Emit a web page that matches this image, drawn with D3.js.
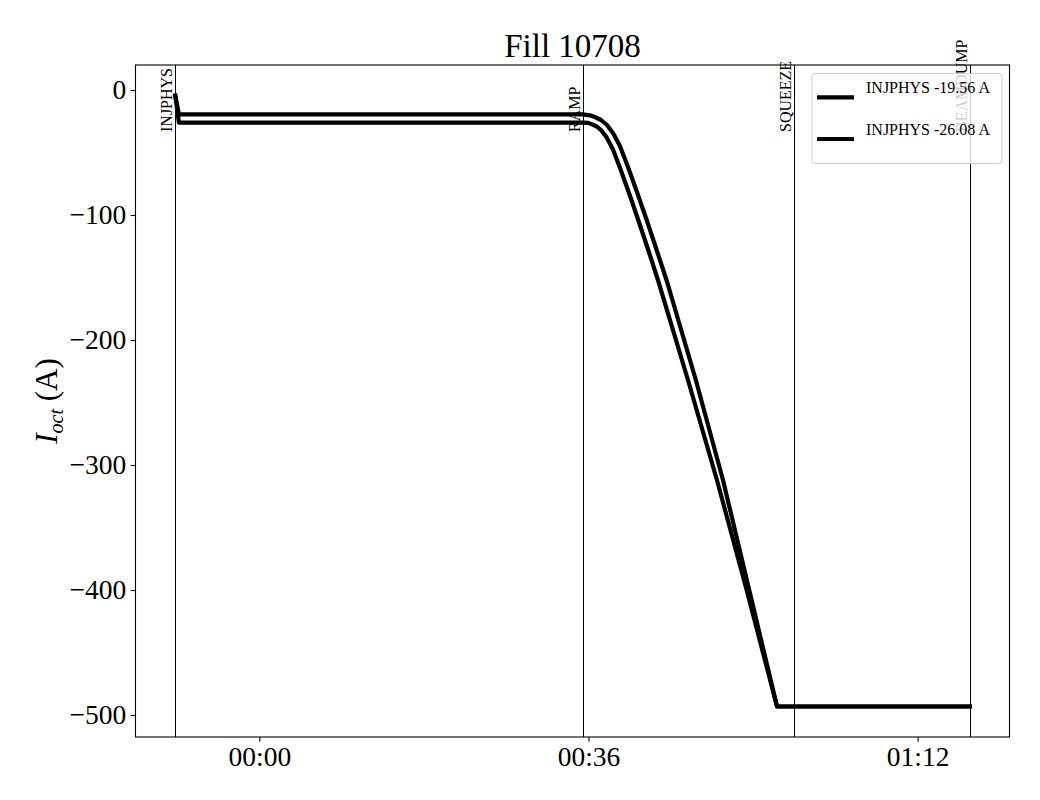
<!DOCTYPE html>
<html>
<head>
<meta charset="utf-8">
<script src="https://cdn.jsdelivr.net/npm/d3@7"></script>
<style>
  html, body { margin: 0; padding: 0; background: #fff; }
  svg { display: block; font-family: "Liberation Serif", "DejaVu Serif", serif; }
</style>
</head>
<body>
<svg id="chart" width="1040" height="800"></svg>
<script>
// ---- Data (time in minutes relative to 00:00, current in A) ----
const title = "Fill 10708";
const seriesNames = ["INJPHYS -19.56 A", "INJPHYS -26.08 A"];
const timesA = [-9.2, -8.8, 35.4, 36.16, 36.82, 37.37, 38.02, 38.68, 39.44, 40.32, 41.3, 42.4, 43.49, 44.6, 47.74, 50.71, 53.58, 56.62, 77.7];
const valuesA = [-4.5, -19.56, -19.56, -20.24, -22.0, -24.0, -28.0, -34.4, -44.8, -61.6, -81.6, -104.8, -128.8, -153.6, -232, -312, -400, -493.2, -493.2];
const timesB = [-9.2, -8.8, 35.4, 35.96, 36.48, 36.9, 37.41, 37.96, 38.67, 39.52, 40.49, 41.59, 42.68, 43.63, 46.88, 50.05, 53.3, 56.62, 77.7];
const valuesB = [-4.5, -26.08, -26.08, -26.32, -27.76, -29.2, -32.32, -37.68, -47.36, -63.76, -83.6, -107.2, -131.2, -152.8, -232, -312, -400, -493.2, -493.2];
const modeNames = ["INJPHYS", "RAMP", "SQUEEZE", "BEAMDUMP"];
const modeTimes = [-9.22, 35.41, 58.48, 77.76];
const xTicks = [0, 36, 72];
const yTicks = [0, -100, -200, -300, -400, -500];

(function () {
// ---- Layout ----
const svg = d3.select("#chart");
const pL = 135.5, pR = 1009.5, pT = 65, pB = 737;
const x = d3.scaleLinear().domain([-13.55, 82.05]).range([pL, pR]);
const y = d3.scaleLinear().domain([20, -517.6]).range([pT, pB]);

const fmtTime = m => {
  const h = Math.floor(m / 60), mm = m % 60;
  return String(h).padStart(2, "0") + ":" + String(mm).padStart(2, "0");
};
const fmtY = v => (v < 0 ? "\u2212" + Math.abs(v) : String(v));

// Axes
const tick = 4.86;
const xAxis = d3.axisBottom(x).tickValues(xTicks).tickFormat(fmtTime).tickSize(tick).tickPadding(4.5);
const yAxis = d3.axisLeft(y).tickValues(yTicks).tickFormat(fmtY).tickSize(tick).tickPadding(4.5);

const gx = svg.append("g").attr("transform", `translate(0,${pB})`).call(xAxis);
const gy = svg.append("g").attr("transform", `translate(${pL},0)`).call(yAxis);
[gx, gy].forEach(g => {
  g.select(".domain").remove();
  g.selectAll(".tick line").attr("stroke", "#000").attr("stroke-width", 1.1);
  g.selectAll(".tick text").attr("fill", "#000").style("font-size", "27.5px")
    .style("font-family", '"Liberation Serif", "DejaVu Serif", serif');
});

// Series lines
const line = d3.line().x(d => x(d[0])).y(d => y(d[1]));
const dataA = timesA.map((t, i) => [t, valuesA[i]]);
const dataB = timesB.map((t, i) => [t, valuesB[i]]);
[dataA, dataB].forEach(d => {
  svg.append("path").datum(d).attr("d", line)
    .attr("fill", "none").attr("stroke", "#000").attr("stroke-width", 4.2)
    .attr("stroke-linejoin", "round").attr("stroke-linecap", "square");
});

// Mode vertical lines + labels
modeTimes.forEach((t, i) => {
  const xx = Math.round(x(t)) + 0.5;
  svg.append("line").attr("x1", xx).attr("x2", xx).attr("y1", pT).attr("y2", pB)
    .attr("stroke", "#000").attr("stroke-width", 1);
  const tx = xx - 4, ty = 132;
  svg.append("text").attr("x", tx).attr("y", ty)
    .attr("transform", `rotate(-90,${tx},${ty})`)
    .attr("text-anchor", "start").style("font-size", "16px").attr("fill", "#000")
    .text(modeNames[i]);
});

// Frame
svg.append("rect").attr("x", pL).attr("y", pT).attr("width", pR - pL).attr("height", pB - pT)
  .attr("fill", "none").attr("stroke", "#000").attr("stroke-width", 1.1);

// Legend
const lg = svg.append("g");
lg.append("rect").attr("x", 812).attr("y", 73.5).attr("width", 190).attr("height", 90).attr("rx", 3)
  .attr("fill", "#fff").attr("fill-opacity", 0.8).attr("stroke", "#cccccc").attr("stroke-width", 1);
seriesNames.forEach((name, i) => {
  const ly = 97.3 + i * 41.7;
  lg.append("line").attr("x1", 817).attr("x2", 854).attr("y1", ly).attr("y2", ly)
    .attr("stroke", "#000").attr("stroke-width", 4.2);
  lg.append("text").attr("x", 866).attr("y", ly - 4.2).style("font-size", "16px").attr("fill", "#000").text(name);
});

// Title
svg.append("text").attr("x", (pL + pR) / 2).attr("y", 56.7).attr("text-anchor", "middle")
  .style("font-size", "33px").attr("fill", "#000").text(title);

// Y label
const ylx = 57, yly = (pT + pB) / 2;
const yl = svg.append("text").attr("x", ylx).attr("y", yly)
  .attr("transform", `rotate(-90,${ylx},${yly})`).attr("text-anchor", "middle")
  .style("font-size", "31px").attr("fill", "#000");
yl.append("tspan").style("font-style", "italic").text("I");
yl.append("tspan").style("font-style", "italic").style("font-size", "20px").attr("dy", 6).text("oct");
yl.append("tspan").attr("dy", -6).text("\u00a0(A)");
})();
</script>
</body>
</html>
